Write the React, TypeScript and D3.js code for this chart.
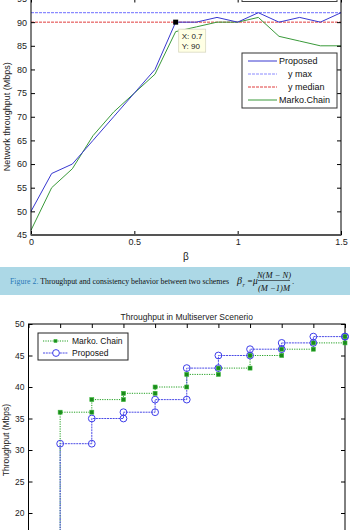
import { useEffect, useRef } from "react";
import * as d3 from "d3";

// top chart: throughput vs beta
const BETA = [0, 0.1, 0.2, 0.3, 0.4, 0.5, 0.6, 0.7, 0.8, 0.9, 1.0, 1.1, 1.2, 1.3, 1.4, 1.5];
const PROPOSED = [50, 58, 60, 65, 70, 75, 80, 90, 90, 91, 90, 92, 90, 91, 90, 92];
const MARKO = [46, 55, 59, 66, 71, 75, 79, 88, 89, 90, 90, 91, 87, 86, 85, 85];
const Y_MAX = 92;
const Y_MEDIAN = 90;
const TIP = { x: 0.7, y: 90 };
const TOP_X_TICKS = [0, 0.5, 1, 1.5];
const TOP_Y_TICKS = [45, 50, 55, 60, 65, 70, 75, 80, 85, 90, 95];

// bottom chart: multiserver stairs
const SERVERS = [1, 2, 3, 4, 5, 6, 7, 8, 9, 10];
const MARKO_MS = [36, 38, 39, 40, 42, 43, 45, 46, 47, 48];
const PROPOSED_MS = [31, 35, 36, 38, 43, 45, 46, 47, 48, 48];
const MS_START = 10;
const BOT_X_TICKS = [0, 1, 2, 3, 4, 5, 6, 7, 8, 9, 10];
const BOT_Y_TICKS = [20, 25, 30, 35, 40, 45, 50];

const SANS = "Liberation Sans, Arial, sans-serif";
const SERIF = "Liberation Serif, Times New Roman, serif";

function stairPoints(values: number[], start: number) {
  const pts: [number, number][] = [];
  let prev = start;
  SERVERS.forEach((s, i) => {
    pts.push([s, prev]);
    pts.push([s, values[i]]);
    prev = values[i];
  });
  return pts;
}

export default function App() {
  const svgRef = useRef<SVGSVGElement | null>(null);

  useEffect(() => {
    document.body.style.margin = "0";
    if (!svgRef.current) return;
    const svg = d3.select(svgRef.current);
    svg.selectAll("*").remove();
    svg.append("rect").attr("width", 350).attr("height", 530).attr("fill", "#fff");

    // ---------- top chart ----------
    const x1 = d3.scaleLinear().domain([0, 1.5]).range([31, 341]);
    const y1 = d3.scaleLinear().domain([45, 95]).range([235, -1.5]);
    const g1 = svg.append("g");

    const line1 = d3.line<number>().x((_, i) => x1(BETA[i])).y((d) => y1(d));

    g1.append("line").attr("x1", x1(0)).attr("x2", x1(1.5))
      .attr("y1", y1(Y_MAX)).attr("y2", y1(Y_MAX))
      .attr("stroke", "#8a8aff").attr("stroke-width", 1.2).attr("stroke-dasharray", "3,1");
    g1.append("line").attr("x1", x1(0)).attr("x2", x1(1.5))
      .attr("y1", y1(Y_MEDIAN)).attr("y2", y1(Y_MEDIAN))
      .attr("stroke", "#e03c3c").attr("stroke-width", 1).attr("stroke-dasharray", "3,1");
    g1.append("path").datum(MARKO).attr("d", line1 as any)
      .attr("fill", "none").attr("stroke", "#3a9a3a").attr("stroke-width", 1);
    g1.append("path").datum(PROPOSED).attr("d", line1 as any)
      .attr("fill", "none").attr("stroke", "#3838d0").attr("stroke-width", 1);

    g1.append("g").attr("transform", `translate(${x1(0)},0)`)
      .call(d3.axisLeft(y1).tickValues(TOP_Y_TICKS).tickSize(-4).tickPadding(4))
      .call((a) => a.select(".domain").remove())
      .selectAll("text").attr("font-size", 9).attr("font-family", SANS).attr("fill", "#222");
    g1.append("g").attr("transform", `translate(${x1(1.5)},0)`)
      .call(d3.axisRight(y1).tickValues(TOP_Y_TICKS).tickSize(-4).tickFormat(() => ""))
      .call((a) => a.select(".domain").remove());
    g1.append("g").attr("transform", `translate(0,${y1(45)})`)
      .call(d3.axisBottom(x1).tickValues(TOP_X_TICKS).tickSize(-4).tickPadding(4).tickFormat((d) => String(d)))
      .call((a) => a.select(".domain").remove())
      .selectAll("text").attr("font-size", 9).attr("font-family", SANS).attr("fill", "#222");
    g1.append("g").attr("transform", `translate(0,${y1(95)})`)
      .call(d3.axisTop(x1).tickValues(TOP_X_TICKS).tickSize(-4).tickFormat(() => ""))
      .call((a) => a.select(".domain").remove());

    g1.append("rect").attr("x", x1(0)).attr("y", y1(95))
      .attr("width", x1(1.5) - x1(0)).attr("height", y1(45) - y1(95))
      .attr("fill", "none").attr("stroke", "#000").attr("stroke-width", 1);
    g1.append("line").attr("x1", x1(0)).attr("x2", x1(1.5)).attr("y1", y1(45)).attr("y2", y1(45))
      .attr("stroke", "#555").attr("stroke-width", 2);

    // cropped box at the very top
    g1.append("rect").attr("x", 242).attr("y", -20).attr("width", 95).attr("height", 21.5)
      .attr("fill", "#fff").attr("stroke", "#444").attr("stroke-width", 1);

    g1.append("text").attr("x", x1(0.75)).attr("y", 260).attr("text-anchor", "middle")
      .attr("font-size", 10).attr("font-family", SANS).attr("fill", "#222").text("β");
    g1.append("text").attr("transform", `translate(10,${(y1(45) + y1(95)) / 2}) rotate(-90)`)
      .attr("text-anchor", "middle").attr("font-size", 9).attr("font-family", SANS).attr("fill", "#222")
      .text("Network throughput (Mbps)");

    // data tip
    const tx = x1(TIP.x), ty = y1(TIP.y);
    g1.append("rect").attr("x", tx + 3).attr("y", ty + 7).attr("width", 27).attr("height", 23)
      .attr("fill", "#ffffe4").attr("stroke", "#d8d8c0").attr("stroke-width", 0.8);
    g1.append("text").attr("x", tx + 6).attr("y", ty + 16.5).attr("font-size", 8)
      .attr("font-family", SANS).attr("fill", "#222").text(`X: ${TIP.x}`);
    g1.append("text").attr("x", tx + 6).attr("y", ty + 27).attr("font-size", 8)
      .attr("font-family", SANS).attr("fill", "#222").text(`Y: ${TIP.y}`);
    g1.append("rect").attr("x", tx - 2.5).attr("y", ty - 2.5).attr("width", 5).attr("height", 5).attr("fill", "#000");

    // legend
    const lg = g1.append("g").attr("transform", "translate(242,53)");
    lg.append("rect").attr("width", 95).attr("height", 55).attr("fill", "#fff")
      .attr("stroke", "#333").attr("stroke-width", 1);
    const legendItems = [
      { label: "Proposed", color: "#3838d0", dash: null, dx: 37 },
      { label: "y max", color: "#8a8aff", dash: "3,1", dx: 46 },
      { label: "y median", color: "#e03c3c", dash: "3,1", dx: 46 },
      { label: "Marko.Chain", color: "#3a9a3a", dash: null, dx: 37 },
    ];
    legendItems.forEach((it, i) => {
      const ly = 8 + i * 13;
      lg.append("line").attr("x1", 6).attr("x2", 35).attr("y1", ly).attr("y2", ly)
        .attr("stroke", it.color).attr("stroke-width", 1).attr("stroke-dasharray", it.dash);
      lg.append("text").attr("x", it.dx).attr("y", ly + 3.2).attr("font-size", 9)
        .attr("font-family", SANS).attr("fill", "#111").text(it.label);
    });

    // ---------- caption ----------
    const cap = svg.append("g");
    cap.append("rect").attr("x", 0).attr("y", 267).attr("width", 350).attr("height", 28).attr("fill", "#acd8e6");
    const ct = cap.append("text").attr("x", 10).attr("y", 284).attr("font-size", 8.2).attr("font-family", SERIF)
      .attr("textLength", 219).attr("lengthAdjust", "spacingAndGlyphs");
    ct.append("tspan").attr("fill", "#2a78b8").text("Figure 2. ");
    ct.append("tspan").attr("fill", "#111").text("Throughput and consistency behavior between two schemes");
    const fx = 237;
    cap.append("text").attr("x", fx).attr("y", 284).attr("font-size", 10).attr("font-family", SERIF)
      .attr("font-style", "italic").attr("fill", "#111").text("β");
    cap.append("text").attr("x", fx + 5.5).attr("y", 286.5).attr("font-size", 6).attr("font-family", SERIF)
      .attr("font-style", "italic").attr("fill", "#111").text("r");
    cap.append("text").attr("x", fx + 10.5).attr("y", 284).attr("font-size", 9).attr("font-family", SERIF)
      .attr("fill", "#111").text("=");
    cap.append("text").attr("x", fx + 16).attr("y", 284).attr("font-size", 9.5).attr("font-family", SERIF)
      .attr("font-style", "italic").attr("fill", "#111").text("μ");
    cap.append("line").attr("x1", fx + 21).attr("x2", fx + 53).attr("y1", 280.5).attr("y2", 280.5)
      .attr("stroke", "#111").attr("stroke-width", 0.6);
    cap.append("text").attr("x", fx + 37).attr("y", 277.5).attr("text-anchor", "middle").attr("font-size", 8.5)
      .attr("font-family", SERIF).attr("font-style", "italic").attr("fill", "#111").text("N(M − N)");
    cap.append("text").attr("x", fx + 37).attr("y", 290.5).attr("text-anchor", "middle").attr("font-size", 8.5)
      .attr("font-family", SERIF).attr("font-style", "italic").attr("fill", "#111").text("(M −1)M");
    cap.append("text").attr("x", fx + 55).attr("y", 284).attr("font-size", 9).attr("font-family", SERIF)
      .attr("fill", "#111").text(".");

    // ---------- bottom chart ----------
    const x2 = d3.scaleLinear().domain([0, 10]).range([28.5, 345]);
    const y2 = d3.scaleLinear().domain([10, 50]).range([576, 324]);
    const g2 = svg.append("g");

    g2.append("text").attr("x", (x2(0) + x2(10)) / 2).attr("y", 320).attr("text-anchor", "middle")
      .attr("font-size", 8.5).attr("font-family", SANS).attr("fill", "#222")
      .text("Throughput in Multiserver Scenerio");

    g2.append("g").attr("transform", `translate(${x2(0)},0)`)
      .call(d3.axisLeft(y2).tickValues(BOT_Y_TICKS).tickSize(-4).tickPadding(4))
      .call((a) => a.select(".domain").remove())
      .selectAll("text").attr("font-size", 8.5).attr("font-family", SANS).attr("fill", "#222");
    g2.append("g").attr("transform", `translate(${x2(10)},0)`)
      .call(d3.axisRight(y2).tickValues(BOT_Y_TICKS).tickSize(-4).tickFormat(() => ""))
      .call((a) => a.select(".domain").remove());
    g2.append("g").attr("transform", `translate(0,${y2(50)})`)
      .call(d3.axisTop(x2).tickValues(BOT_X_TICKS).tickSize(-4).tickFormat(() => ""))
      .call((a) => a.select(".domain").remove());
    g2.append("rect").attr("x", x2(0)).attr("y", y2(50))
      .attr("width", x2(10) - x2(0)).attr("height", y2(10) - y2(50))
      .attr("fill", "none").attr("stroke", "#000").attr("stroke-width", 1);
    g2.append("text").attr("transform", `translate(9,440) rotate(-90)`)
      .attr("text-anchor", "middle").attr("font-size", 8.5).attr("font-family", SANS).attr("fill", "#222")
      .text("Throughput (Mbps)");

    const line2 = d3.line<[number, number]>().x((d) => x2(d[0])).y((d) => y2(d[1]));
    const greenPts = stairPoints(MARKO_MS, MS_START);
    const bluePts = stairPoints(PROPOSED_MS, MS_START);

    g2.append("path").datum(greenPts).attr("d", line2 as any).attr("fill", "none")
      .attr("stroke", "#22a022").attr("stroke-width", 1).attr("stroke-dasharray", "1.2,1.2");
    g2.append("path").datum(bluePts).attr("d", line2 as any).attr("fill", "none")
      .attr("stroke", "#4a4ae6").attr("stroke-width", 1).attr("stroke-dasharray", "2,0.8");

    g2.selectAll(".gm").data(greenPts).join("rect")
      .attr("x", (d) => x2(d[0]) - 2).attr("y", (d) => y2(d[1]) - 2)
      .attr("width", 4).attr("height", 4)
      .attr("fill", "#1a8a1a").attr("stroke", "#3cb83c").attr("stroke-width", 0.6);
    g2.selectAll(".bm").data(bluePts).join("circle")
      .attr("cx", (d) => x2(d[0])).attr("cy", (d) => y2(d[1])).attr("r", 3.4)
      .attr("fill", "none").attr("stroke", "#3e3eea").attr("stroke-width", 1);

    // legend
    const lg2 = g2.append("g").attr("transform", "translate(38,333)");
    lg2.append("rect").attr("width", 90).attr("height", 27).attr("fill", "#fff")
      .attr("stroke", "#222").attr("stroke-width", 1);
    lg2.append("line").attr("x1", 5).attr("x2", 30).attr("y1", 8).attr("y2", 8)
      .attr("stroke", "#22a022").attr("stroke-dasharray", "1.2,1.2");
    lg2.append("rect").attr("x", 16).attr("y", 6.5).attr("width", 3).attr("height", 3)
      .attr("fill", "#1a8a1a").attr("stroke", "#3cb83c").attr("stroke-width", 0.6);
    lg2.append("text").attr("x", 34).attr("y", 11).attr("font-size", 8.5).attr("font-family", SANS)
      .attr("fill", "#111").text("Marko. Chain");
    lg2.append("line").attr("x1", 5).attr("x2", 30).attr("y1", 20).attr("y2", 20)
      .attr("stroke", "#4a4ae6").attr("stroke-dasharray", "2,0.8");
    lg2.append("circle").attr("cx", 18).attr("cy", 20).attr("r", 3.4)
      .attr("fill", "#fff").attr("stroke", "#3e3eea");
    lg2.append("text").attr("x", 34).attr("y", 23).attr("font-size", 8.5).attr("font-family", SANS)
      .attr("fill", "#111").text("Proposed");
  }, []);

  return (
    <svg ref={svgRef} width={350} height={530}
      style={{ display: "block", position: "absolute", left: 0, top: 0 }} />
  );
}
